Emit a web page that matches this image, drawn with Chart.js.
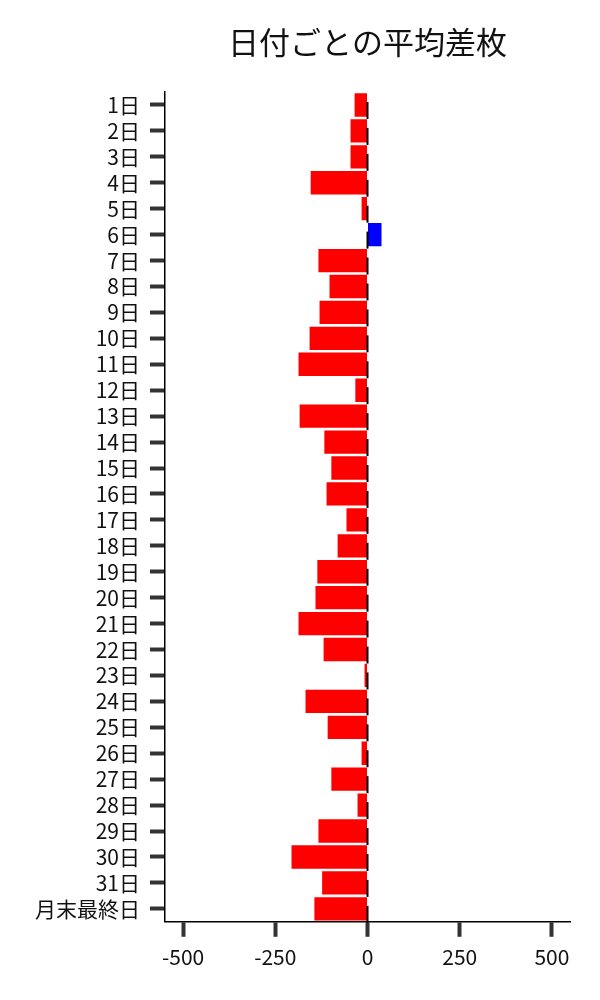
<!DOCTYPE html>
<html>
<head>
<meta charset="utf-8">
<script src="https://cdn.jsdelivr.net/npm/chart.js@4"></script>
<style>
  body { margin: 0; background: #fff; }
  #wrap { width: 600px; height: 1000px; }
</style>
</head>
<body>
<div id="wrap"><canvas id="myChart"></canvas></div>
<script>
const DAY_LABELS = ['1日','2日','3日','4日','5日','6日','7日','8日','9日','10日',
  '11日','12日','13日','14日','15日','16日','17日','18日','19日','20日',
  '21日','22日','23日','24日','25日','26日','27日','28日','29日','30日','31日','月末最終日'];
const AVG_DIFF = [-35, -46, -46, -154, -16, 38, -133, -103, -130, -157,
  -187, -33, -184, -117, -98, -111, -57, -81, -136, -141,
  -187, -119, -8, -168, -108, -16, -98, -27, -133, -206, -123, -144];
const X_TICKS = [-500, -250, 0, 250, 500];
const TITLE = '日付ごとの平均差枚';

const FONT = "'Noto Sans CJK JP', 'Noto Sans', sans-serif";

// タイトルはプロット領域の中央に置く
const centeredTitle = {
  id: 'centeredTitle',
  afterDraw(chart) {
    const ctx = chart.ctx;
    const area = chart.chartArea;
    ctx.save();
    ctx.fillStyle = '#111';
    ctx.font = '31px ' + FONT;
    ctx.textAlign = 'center';
    ctx.textBaseline = 'middle';
    ctx.fillText(TITLE, (area.left + area.right) / 2, 42);
    ctx.restore();
  }
};

// 0の位置に短い黒線を各バーごとに描く
const zeroMarks = {
  id: 'zeroMarks',
  afterDatasetsDraw(chart) {
    const ctx = chart.ctx;
    const x0 = chart.scales.x.getPixelForValue(0);
    const meta = chart.getDatasetMeta(0);
    ctx.save();
    ctx.strokeStyle = '#000';
    ctx.lineWidth = 2;
    meta.data.forEach(bar => {
      ctx.beginPath();
      ctx.moveTo(x0, bar.y - 3);
      ctx.lineTo(x0, bar.y + 14);
      ctx.stroke();
    });
    ctx.restore();
  }
};

function renderChart() {
  const ctx = document.getElementById('myChart');

  let chartOptions = {
    type: 'bar',
    data: {
      labels: DAY_LABELS,
      datasets: [{
        label: '平均差枚',
        data: AVG_DIFF,
        backgroundColor: AVG_DIFF.map(v => v >= 0 ? '#0000ff' : '#ff0000'),
        borderWidth: 0,
        barPercentage: 0.9,
        categoryPercentage: 1
      }]
    },
    options: {
      indexAxis: 'y',
      responsive: true,
      maintainAspectRatio: false,
      animation: false,
      layout: { padding: { left: 25, right: 30, bottom: 22, top: 92 } },
      plugins: {
        legend: { display: false },
        tooltip: { enabled: false },
        title: { display: false }
      },
      scales: {
        x: {
          min: -549,
          max: 549,
          afterBuildTicks: axis => { axis.ticks = X_TICKS.map(v => ({ value: v })); },
          border: { display: true, color: '#000', width: 1.5 },
          grid: {
            display: true,
            drawOnChartArea: false,
            drawTicks: true,
            tickLength: 15,
            tickWidth: 4,
            tickColor: '#333'
          },
          ticks: {
            color: '#111',
            padding: 8,
            font: { family: FONT, size: 21 }
          }
        },
        y: {
          border: { display: true, color: '#000', width: 1.5 },
          grid: {
            display: true,
            offset: false,
            drawOnChartArea: false,
            drawTicks: true,
            tickLength: 15,
            tickWidth: 4,
            tickColor: '#333'
          },
          ticks: {
            color: '#111',
            padding: 10,
            autoSkip: false,
            font: { family: FONT, size: 21 }
          }
        }
      }
    },
    plugins: [zeroMarks, centeredTitle]
  };

  new Chart(ctx, chartOptions);
}

renderChart();
</script>
</body>
</html>
